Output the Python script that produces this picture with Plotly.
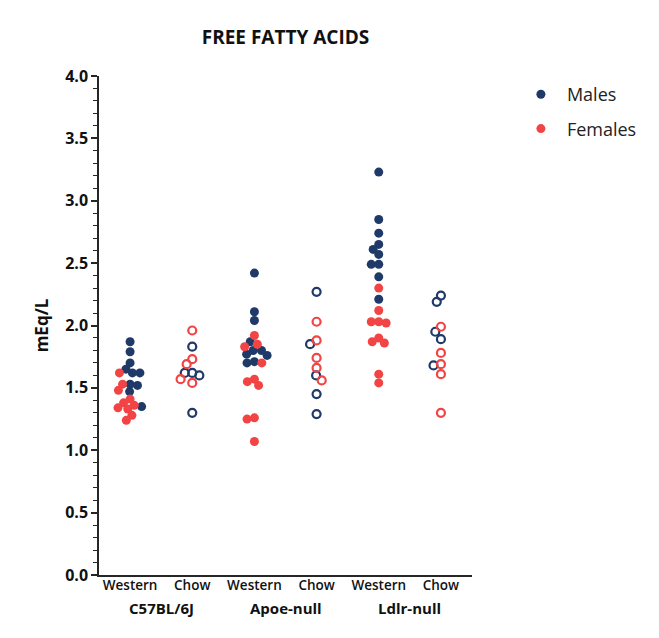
import math
import plotly.graph_objects as go

# ---------------- data ----------------
categories = ["Western", "Chow", "Western", "Chow", "Western", "Chow"]
groups = ["C57BL/6J", "Apoe-null", "Ldlr-null"]

males = [
    [1.87, 1.79, 1.70, 1.65, 1.62, 1.62, 1.53, 1.52, 1.47, 1.35],   # C57 Western
    [1.83, 1.62, 1.62, 1.60, 1.30],                                 # C57 Chow
    [2.42, 2.11, 2.04, 1.87, 1.80, 1.80, 1.77, 1.76, 1.71, 1.70],   # Apoe Western
    [2.27, 1.85, 1.60, 1.45, 1.29],                                 # Apoe Chow
    [3.23, 2.85, 2.74, 2.65, 2.61, 2.57, 2.49, 2.49, 2.39, 2.21],   # Ldlr Western
    [2.24, 2.19, 1.95, 1.89, 1.68],                                 # Ldlr Chow
]
females = [
    [1.62, 1.53, 1.48, 1.41, 1.38, 1.36, 1.34, 1.33, 1.28, 1.24],
    [1.96, 1.73, 1.69, 1.57, 1.54],
    [1.92, 1.85, 1.83, 1.70, 1.57, 1.55, 1.52, 1.26, 1.25, 1.07],
    [2.03, 1.88, 1.74, 1.66, 1.56],
    [2.30, 2.12, 2.03, 2.03, 2.02, 1.90, 1.87, 1.86, 1.61, 1.54],
    [1.99, 1.78, 1.69, 1.61, 1.30],
]

NAVY = "#1F3A68"
RED = "#F24444"
AX = "#262626"

# ---------------- layout geometry ----------------
W, H = 659, 638
PAGE_OFF = 8                      # page body margin
ML, MT = 99 - PAGE_OFF, 76 - PAGE_OFF
plot_w, plot_h = 373, 499
MR = W - ML - plot_w
MB = H - MT - plot_h
px_per_cat = plot_w / 6.0
px_per_unit = plot_h / 4.0
D = 7.5  # minimal centre distance between dots, px


def beeswarm(vals):
    """Return horizontal offsets (category units) so dots do not overlap."""
    order = sorted(range(len(vals)), key=lambda i: -vals[i])
    placed = []
    offs = [0.0] * len(vals)
    for i in order:
        y = vals[i] * px_per_unit
        ivs = []
        for (xj, yj) in placed:
            dy = abs(y - yj)
            if dy < D:
                w = math.sqrt(D * D - dy * dy)
                ivs.append((xj - w, xj + w))
        cands = [0.0] + [e for iv in ivs for e in iv]
        cands.sort(key=lambda c: (abs(c), c))
        best = 0.0
        for c in cands:
            if all(not (a + 1e-6 < c < b - 1e-6) for a, b in ivs):
                best = c
                break
        placed.append((best, y))
        offs[i] = best / px_per_cat
    return offs


fig = go.Figure()
for k in range(6):
    m = males[k]
    f = females[k]
    offs = beeswarm(m + f)
    om, of = offs[:len(m)], offs[len(m):]
    is_chow = categories[k] == "Chow"
    for vals, o, col, name in ((m, om, NAVY, "Males"), (f, of, RED, "Females")):
        if is_chow:
            marker = dict(symbol="circle-open", size=8, color=col,
                          line=dict(width=2.2, color=col))
        else:
            marker = dict(symbol="circle", size=9, color=col,
                          line=dict(width=0))
        fig.add_trace(go.Scatter(
            x=[k + oo for oo in o], y=vals, mode="markers",
            marker=marker, name=name, legendgroup=name,
            showlegend=(k == 0), hoverinfo="y",
        ))

# group labels
for gi, g in enumerate(groups):
    fig.add_annotation(x=2 * gi + 0.5, y=-33 / plot_h, xref="x", yref="paper",
                       text="<b>%s</b>" % g, showarrow=False,
                       font=dict(size=15, color="#111"), yanchor="middle")

fig.update_layout(
    width=W, height=H,
    margin=dict(l=ML, r=MR, t=MT, b=MB),
    paper_bgcolor="white", plot_bgcolor="white",
    font=dict(family="Open Sans, Noto Sans, sans-serif", color="#111"),
    title=dict(text="<b>FREE FATTY ACIDS</b>", x=(ML + plot_w / 2) / W,
               xanchor="center", y=1 - (37 - PAGE_OFF) / H, yanchor="middle",
               font=dict(size=19, color="#111")),
    showlegend=True,
    legend=dict(x=1.115, y=1.0, xanchor="left", yanchor="top",
                font=dict(size=18, color="#222"), tracegroupgap=8,
                itemwidth=42, bgcolor="rgba(0,0,0,0)"),
    xaxis=dict(range=[-0.5, 5.5], tickmode="array", tickvals=list(range(6)),
               ticktext=categories, ticks="", showgrid=False, zeroline=False,
               showline=True, linecolor=AX, linewidth=1.5,
               ticklabelstandoff=-3,
               tickfont=dict(size=13.5, color="#111", weight=600)),
    yaxis=dict(range=[0, 4], tickmode="linear", tick0=0, dtick=0.5,
               tickformat=".1f", ticks="outside", ticklen=6, tickwidth=1.5,
               tickcolor=AX, showgrid=False, zeroline=False, showline=True,
               linecolor=AX, linewidth=1.5,
               tickfont=dict(size=16, color="#111", weight="bold"),
               minor=dict(dtick=0.1, ticks="outside", ticklen=4, tickwidth=1.2,
                          tickcolor=AX, showgrid=False),
               title=dict(text="<b>mEq/L</b>", standoff=12,
                          font=dict(size=17, color="#111"))),
)

fig.write_html("out.html")
